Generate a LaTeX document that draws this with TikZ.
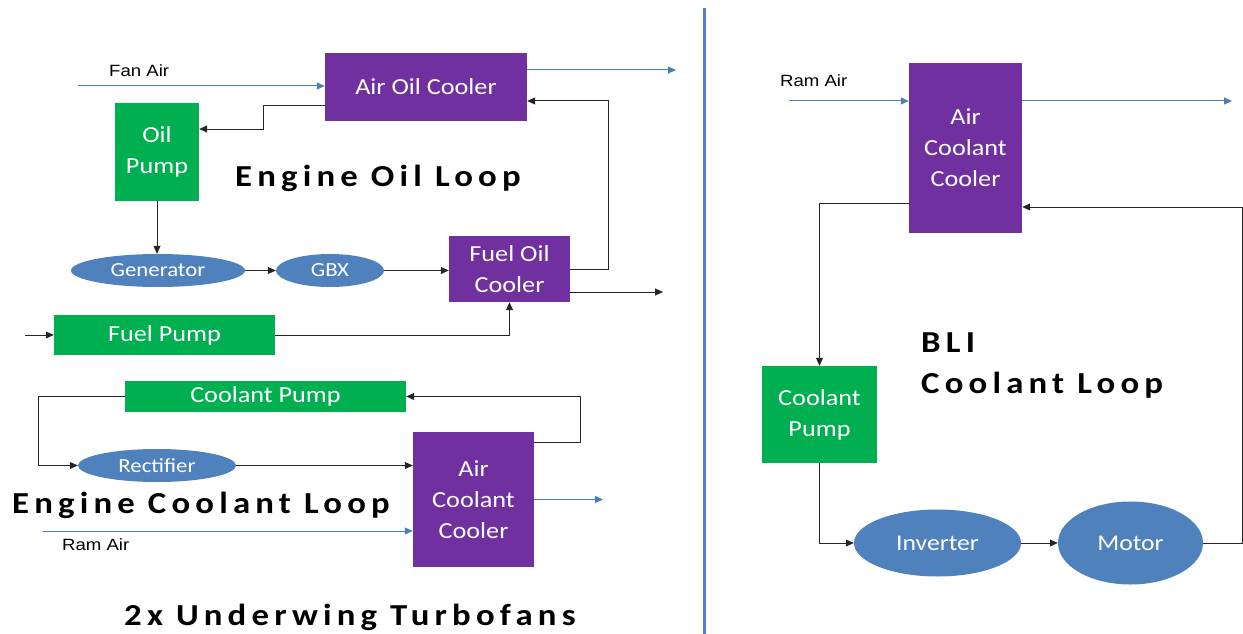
\documentclass[tikz,border=0pt]{standalone}
\usepackage{fontspec}
\usetikzlibrary{shapes.geometric,arrows.meta,calc}
\newfontfamily\calfont{Carlito}[FakeStretch=1.14]
\newfontfamily\arlfont{Liberation Sans}[FakeStretch=1.14]
\newfontfamily\ttlfont{Carlito}[FakeStretch=1.14,LetterSpace=17]
\definecolor{purp}{HTML}{7030A0}
\definecolor{grn}{HTML}{00B050}
\definecolor{ovl}{HTML}{4F81BD}
\definecolor{airblue}{HTML}{4A7EBB}
\definecolor{divblue}{HTML}{5282C4}
\begin{document}
\begin{tikzpicture}[x=1pt,y=-1pt,
  box/.style={rectangle, inner sep=0pt, text=white, align=center, font=\calfont\fontsize{23}{31}\selectfont},
  pbox/.style={box, fill=purp},
  gbox/.style={box, fill=grn},
  oval/.style={ellipse, inner sep=0pt, fill=ovl, text=white, font=\calfont\fontsize{20}{24}\selectfont},
  bigoval/.style={oval, font=\calfont\fontsize{22.5}{27}\selectfont},
  conn/.style={draw=black!85, line width=1pt, -{Triangle[length=8pt,width=7pt]}},
  air/.style={draw=airblue, line width=1pt, -{Triangle[length=8pt,width=7pt]}},
  lbl/.style={font=\arlfont\fontsize{16.3}{19}\selectfont, anchor=base west, inner sep=0pt},
  ttl/.style={font=\ttlfont\bfseries\fontsize{30.5}{40.7}\selectfont, anchor=base west, inner sep=0pt}
]
\useasboundingbox (0,0) rectangle (1243,634);

% divider
\draw[draw=divblue, line width=3pt] (704,8) -- (704,634);

% ---------- left: nodes ----------
\node[pbox, minimum width=202pt, minimum height=68pt] (aoc) at (426,87) {Air Oil Cooler};
\node[gbox, minimum width=84pt, minimum height=98pt] (op) at (157,152) {Oil\\Pump};
\node[oval, minimum width=174pt, minimum height=33pt] (gen) at (158,270.5) {Generator};
\node[oval, minimum width=108pt, minimum height=33pt] (gbx) at (330,270.5) {GBX};
\node[pbox, minimum width=121pt, minimum height=66pt] (foc) at (509.5,269) {Fuel Oil\\Cooler};
\node[gbox, minimum width=221pt, minimum height=40pt] (fp) at (164.5,335) {Fuel Pump};
\node[gbox, minimum width=281pt, minimum height=31pt] (cp) at (265.5,396.5) {Coolant Pump};
\node[oval, minimum width=158pt, minimum height=33pt] (rect) at (157,465.5) {Rectifier};
\node[pbox, minimum width=121pt, minimum height=135pt] (acc) at (473.5,499.5) {Air\\Coolant\\Cooler};

\coordinate (fanin) at (78,86);
\coordinate (aocout) at (676,70);
\coordinate (focout) at (663,292);
\coordinate (fpin) at (25,335);
\coordinate (accout) at (603,499.5);
\coordinate (ramin) at (43,531);

% labels
\node[lbl] (fanair) at (109,77) {Fan Air};
\node[lbl] (ramairl) at (62,550) {Ram Air};
\node[ttl] (eol) at (235,186) {Engine Oil Loop};
\node[ttl] (ecl) at (12,513) {Engine Coolant Loop};
\node[ttl] (uwt) at (124,625) {2x Underwing Turbofans};

% ---------- left: connectors ----------
\draw[air] (fanin) -- (fanin -| aoc.west);
\draw[air] ([yshift=17pt]aoc.east) -- (aocout);
\draw[conn] ([yshift=-18pt]aoc.west) -| ([xshift=64pt,yshift=23pt]op.east) -- ([yshift=23pt]op.east);
\draw[conn] (op.south) -- (op.south |- gen.north);
\draw[conn] (gen.east) -- (gbx.west);
\draw[conn] (gbx.east) -- (gbx.east -| foc.west);
\draw[conn] (foc.east) -| ([xshift=81pt,yshift=-14pt]aoc.east) -- ([yshift=-14pt]aoc.east);
\draw[conn] ([yshift=-23pt]foc.east) -- (focout);
\draw[conn] (fpin) -- (fp.west);
\draw[conn] (fp.east) -| (foc.south);
\draw[conn] (cp.west) -- ++(-86,0) |- (rect.west);
\draw[conn] (rect.east) -- (rect.east -| acc.west);
\draw[conn] ([yshift=-11pt]acc.north east) -- ++(46,0) |- (cp.east);
\draw[air] (acc.east) -- (accout);
\draw[air] (ramin) -- (ramin -| acc.west);

% ---------- right: nodes ----------
\node[pbox, minimum width=113pt, minimum height=170pt] (racc) at (965.5,148) {Air\\Coolant\\Cooler};
\node[gbox, minimum width=115pt, minimum height=97pt] (rcp) at (819.5,414.5) {Coolant\\Pump};
\node[bigoval, minimum width=167pt, minimum height=67pt] (inv) at (937.5,543) {Inverter};
\node[bigoval, minimum width=145pt, minimum height=83pt] (mot) at (1130.5,543) {Motor};

\coordinate (rramin) at (789,101);
\coordinate (rout) at (1232,101);

\node[lbl] (ramairr) at (780,87) {Ram Air};
\node[ttl] (bli) at (921,352) {BLI};
\node[ttl] (bcl) at (921,393) {Coolant Loop};

% ---------- right: connectors ----------
\draw[air] (rramin) -- (rramin -| racc.west);
\draw[air] ([yshift=47pt]racc.east) -- (rout);
\draw[conn] ([yshift=-55pt]racc.west) -| (rcp.north);
\draw[conn] (rcp.south) |- (inv.west);
\draw[conn] (inv.east) -- (mot.west);
\draw[conn] (mot.east) -- ++(39,0) |- ([yshift=-59pt]racc.east);
\end{tikzpicture}
\end{document}
